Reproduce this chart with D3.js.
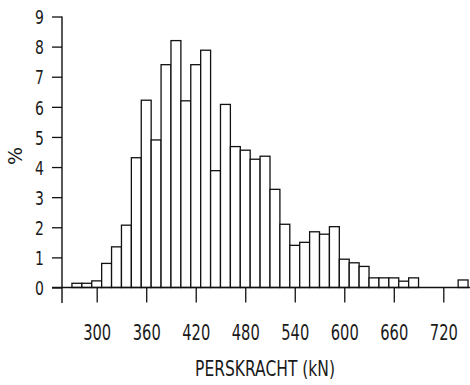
<!DOCTYPE html>
<html><head><meta charset="utf-8">
<script src="https://cdn.jsdelivr.net/npm/d3@7"></script>
<style>
body{margin:0;background:#fff;}
text{font-family:"DejaVu Sans",sans-serif;font-weight:normal;fill:#1a1a1a;}
</style></head>
<body><svg id="c" width="470" height="385"></svg>
<script>
const binStarts = [270,282,294,306,318,330,342,354,366,378,390,402,414,426,438,450,462,474,486,498,510,522,534,546,558,570,582,594,606,618,630,642,654,666,678,690,702,714,726,738];
const percents  = [0.14,0.14,0.22,0.80,1.35,2.07,4.31,6.22,4.90,7.40,8.20,6.20,7.40,7.88,3.88,6.08,4.68,4.56,4.26,4.36,3.26,2.10,1.40,1.50,1.85,1.77,2.02,0.94,0.82,0.70,0.32,0.32,0.32,0.21,0.32,0,0,0,0,0.25];
const binWidth = 12;
const xTicks = [300,360,420,480,540,600,660,720];
const yTicks = [0,1,2,3,4,5,6,7,8,9];
const xTitle = "PERSKRACHT  (kN)";
const yTitle = "%";

const svg = d3.select("#c");
const x = d3.scaleLinear().domain([300,720]).range([96.7,443.3]);
const y = d3.scaleLinear().domain([0,9]).range([287.5,16.5]);
const sx = 0.7;

const g = svg.append("g");
g.selectAll("rect").data(binStarts.map((b,i)=>({b,v:percents[i]})).filter(d=>d.v>0))
 .join("rect")
 .attr("x",d=>x(d.b)).attr("width",d=>x(d.b+binWidth)-x(d.b))
 .attr("y",d=>y(d.v)).attr("height",d=>y(0)-y(d.v))
 .attr("fill","#fff").attr("stroke","#111").attr("stroke-width",1.3);

// x axis
const xa = d3.axisBottom(x).tickValues(xTicks).tickSize(15).tickSizeOuter(0);
const xg = svg.append("g").attr("transform",`translate(0,${y(0)})`).call(xa);
xg.select(".domain").remove();
svg.append("line").attr("x1",52).attr("x2",470).attr("y1",y(0)).attr("y2",y(0)).attr("stroke","#111").attr("stroke-width",1.4);
xg.selectAll(".tick line").attr("stroke","#111").attr("stroke-width",1.3);
xg.selectAll(".tick text").attr("font-size",21).attr("font-family",null).attr("dy",null).attr("y",53)
  .attr("transform",`scale(${sx},1)`);

// y axis
const ya = d3.axisLeft(y).tickValues(yTicks).tickSize(10).tickSizeOuter(0);
const yg = svg.append("g").attr("transform",`translate(62,0)`).call(ya);
yg.select(".domain").remove();
svg.append("line").attr("x1",62).attr("x2",62).attr("y1",y(9)).attr("y2",303).attr("stroke","#111").attr("stroke-width",1.4);
yg.selectAll(".tick line").attr("stroke","#111").attr("stroke-width",1.3);
yg.selectAll(".tick text").attr("font-size",20).attr("font-family",null).attr("dy","0.36em")
  .attr("x",-18/sx).attr("transform",`scale(${sx},1)`);

const tg = svg.append("g");
const tt = tg.append("text").attr("text-anchor","middle").attr("font-size",20.5).text(xTitle);
const tw = tt.node().getComputedTextLength();
tg.attr("transform",`translate(265,376) scale(${140/tw},1)`);
svg.append("g").attr("transform","translate(22,156) rotate(-90)")
  .append("text").attr("text-anchor","middle").attr("font-size",19).text(yTitle);
</script></body></html>
